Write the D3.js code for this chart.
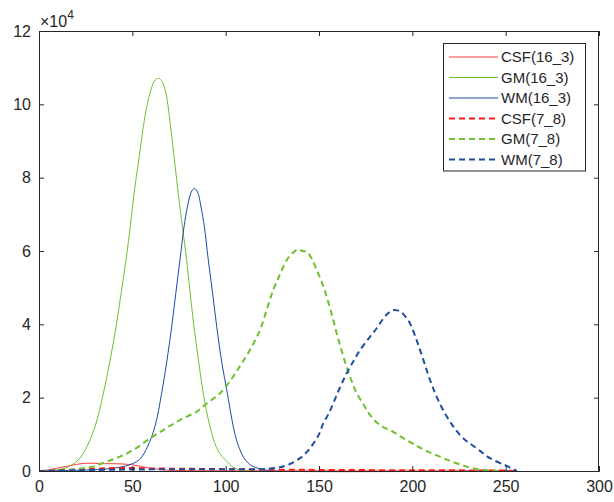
<!DOCTYPE html>
<html>
<head>
<meta charset="utf-8">
<script src="https://cdn.jsdelivr.net/npm/d3@7"></script>
<style>
  html, body { margin: 0; padding: 0; background: #fff; }
  svg { display: block; font-family: "Liberation Sans", Arial, Helvetica, sans-serif; }
</style>
</head>
<body>
<svg id="chart" width="614" height="502"></svg>
<script>
// ---- data (x = intensity, y in units of 1e4) ----
const xTicks = [0, 50, 100, 150, 200, 250, 300];
const yTicks = [0, 2, 4, 6, 8, 10, 12];
const seriesNames = ["CSF(16_3)", "GM(16_3)", "WM(16_3)", "CSF(7_8)", "GM(7_8)", "WM(7_8)"];

const csf16 = [[0,0],[5,0.03],[10,0.08],[15,0.13],[20,0.18],[25,0.21],[30,0.21],[35,0.2],[40,0.2],[45,0.19],[50,0.17],[55,0.12],[60,0.07],[65,0.04],[70,0.02],[80,0.01],[100,0.005],[150,0.003],[200,0.002],[250,0.001],[255,0]];
const gm16 = [[0,0],[7,0.01],[15,0.1],[21,0.3],[25,0.6],[30,1.21],[34.5,2.12],[38,3.0],[41.3,3.94],[44,4.85],[46.6,5.75],[49,6.7],[50.9,7.57],[53.5,8.5],[55.9,9.39],[58,10.0],[60,10.4],[62,10.65],[63.9,10.71],[66,10.62],[68,10.3],[70.5,9.39],[72.5,8.5],[74.6,7.57],[77,6.6],[79.1,5.75],[81,4.85],[83,3.94],[85.5,3.0],[88,2.12],[91.6,1.21],[95,0.65],[98,0.4],[100.5,0.27],[104,0.1],[108,0.02],[112,0],[255,0]];
const wm16 = [[0,0],[20,0.02],[35,0.05],[45,0.12],[50,0.2],[54,0.32],[58,0.65],[62.1,1.21],[65.7,2.12],[68.5,3.0],[71.1,3.94],[73.3,4.85],[75.5,5.75],[77.7,6.66],[79.5,7.2],[81.5,7.6],[83.2,7.71],[85,7.6],[86.8,7.2],[88.6,6.66],[90.7,5.75],[93,4.85],[95.2,3.94],[98,2.94],[100.9,2.12],[103,1.5],[105,1.0],[107.3,0.62],[109.5,0.38],[112,0.22],[114,0.14],[118.4,0.06],[122,0.02],[125,0],[255,0]];
const csf78 = [[0,0],[10,0.02],[20,0.04],[30,0.06],[40,0.08],[50,0.08],[60,0.07],[80,0.06],[100,0.05],[120,0.04],[150,0.03],[200,0.02],[250,0.01],[255,0]];
const gm78 = [[0,0],[10,0.01],[17,0.03],[23,0.07],[29,0.12],[36,0.25],[43.4,0.39],[51.4,0.6],[59.5,0.89],[67,1.13],[75.5,1.39],[84.5,1.62],[90,1.85],[97,2.12],[104,2.57],[108,2.89],[113,3.3],[118.4,3.85],[122,4.4],[125.5,4.94],[129,5.35],[132.7,5.75],[136,5.95],[138.9,6.05],[141,6.0],[143.4,5.98],[146,5.8],[148.8,5.48],[151.5,5.15],[154.1,4.75],[157,4.25],[159.5,3.75],[162,3.3],[164.8,2.84],[167.5,2.45],[170.2,2.12],[174,1.8],[177.3,1.53],[182.7,1.25],[189.8,1.07],[195,0.9],[200.5,0.74],[207,0.56],[214.8,0.39],[222,0.24],[229.1,0.12],[235,0.05],[240,0.02],[248,0]];
const wm78 = [[0,0],[20,0.02],[50,0.04],[80,0.05],[100,0.05],[118.4,0.05],[124,0.07],[129,0.1],[134,0.18],[139.8,0.35],[143.5,0.52],[147,0.75],[150,1.0],[152.3,1.3],[155,1.55],[157.7,1.85],[161,2.25],[164.8,2.66],[168.5,3.0],[172,3.3],[177.3,3.66],[181,3.9],[184.5,4.16],[187,4.3],[189.8,4.39],[192,4.38],[194.3,4.32],[196.5,4.2],[198.7,4.03],[202.3,3.57],[205.9,3.03],[209.5,2.48],[213,2.03],[217.5,1.57],[222,1.21],[227.3,0.89],[234.5,0.62],[241.6,0.35],[249.6,0.16],[253,0.08],[255,0.03],[256,0]];

const seriesData = [csf16, gm16, wm16, csf78, gm78, wm78];
const seriesColors = ["#ff3b3b", "#6fbf2e", "#1d4aa8", "#ff1a1a", "#6fbf2e", "#1f4e9e"];
const seriesDashed = [false, false, false, true, true, true];

// ---- layout ----
const L = 39, R = 599, T = 31, B = 471;
const axisColor = "#262626";
const svg = d3.select("#chart");

const x = d3.scaleLinear().domain([0, 300]).range([L, R]);
const y = d3.scaleLinear().domain([0, 12]).range([B, T]);

// lines
const line = d3.line().x(d => x(d[0])).y(d => Math.min(B, y(d[1]))).curve(d3.curveCatmullRom.alpha(0.5));
const plot = svg.append("g");
seriesData.forEach((s, i) => {
  plot.append("path")
    .datum(s)
    .attr("d", line)
    .attr("fill", "none")
    .attr("stroke", seriesColors[i])
    .attr("stroke-width", seriesDashed[i] ? 2 : 1)
    .attr("stroke-dasharray", seriesDashed[i] ? "6,4" : null)
    .attr("stroke-linejoin", "round");
});

// axes (ticks inward)
const xAxis = d3.axisBottom(x).tickValues(xTicks).tickSize(-5).tickPadding(10).tickFormat(d3.format("d"));
const yAxis = d3.axisLeft(y).tickValues(yTicks).tickSize(-5).tickPadding(8).tickFormat(d3.format("d"));
const gx = svg.append("g").attr("transform", `translate(0,${B})`).call(xAxis);
const gy = svg.append("g").attr("transform", `translate(${L},0)`).call(yAxis);
[gx, gy].forEach(g => {
  g.select(".domain").attr("stroke", axisColor);
  g.selectAll(".tick line").attr("stroke", axisColor);
  g.selectAll(".tick text").attr("fill", axisColor).style("font-size", "16px")
    .style("font-family", "'Liberation Sans', Arial, sans-serif");
});
// box top/right
svg.append("line").attr("x1", L).attr("x2", R).attr("y1", T + 0.5).attr("y2", T + 0.5).attr("stroke", axisColor);
svg.append("line").attr("x1", R - 0.5).attr("x2", R - 0.5).attr("y1", T).attr("y2", B).attr("stroke", axisColor);
// top/right ticks (inward)
xTicks.forEach(t => svg.append("line").attr("x1", x(t) + 0.5).attr("x2", x(t) + 0.5).attr("y1", T).attr("y2", T + 5).attr("stroke", axisColor));
yTicks.forEach(t => svg.append("line").attr("x1", R).attr("x2", R - 5).attr("y1", y(t) + 0.5).attr("y2", y(t) + 0.5).attr("stroke", axisColor));

// exponent label
const ex = svg.append("text").attr("x", 40).attr("y", 27).attr("fill", axisColor).style("font-size", "16px");
ex.append("tspan").text("×10");
ex.append("tspan").attr("dy", -8).style("font-size", "12px").text("4");

// legend
const lg = svg.append("g");
lg.append("rect").attr("x", 443.5).attr("y", 43.5).attr("width", 142).attr("height", 127.5)
  .attr("fill", "#fff").attr("stroke", axisColor).attr("stroke-width", 1);
seriesNames.forEach((name, i) => {
  const cy = 57 + i * 20.5;
  lg.append("line").attr("x1", 449).attr("x2", 498).attr("y1", cy).attr("y2", cy)
    .attr("stroke", seriesColors[i]).attr("stroke-width", seriesDashed[i] ? 2 : 1)
    .attr("stroke-dasharray", seriesDashed[i] ? "6,4" : null);
  lg.append("text").attr("x", 501).attr("y", cy).attr("dy", "0.35em")
    .attr("fill", axisColor).style("font-size", "15px").text(name);
});
</script>
</body>
</html>
